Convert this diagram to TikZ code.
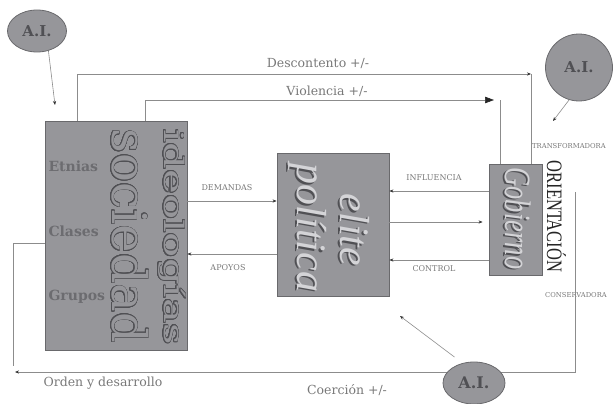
\documentclass[tikz,border=0pt]{standalone}
\usepackage{fontspec}
\setmainfont{DejaVu Serif}
\newfontfamily\libfont{Liberation Serif}
\usepackage{graphicx}
\usepackage{contour}
\contourlength{0.6pt}
\contournumber{24}
\usetikzlibrary{arrows.meta,shapes.geometric}
\definecolor{boxgray}{RGB}{150,150,154}
\definecolor{edgegray}{RGB}{105,105,108}
\definecolor{lngray}{RGB}{140,140,140}
\definecolor{txtgray}{RGB}{120,120,120}
\definecolor{darktxt}{RGB}{80,80,84}
\definecolor{lighttxt}{RGB}{212,212,215}
\definecolor{grptxt}{RGB}{108,108,112}
\tikzset{
  blk/.style={draw=edgegray,line width=0.8pt,fill=boxgray,inner sep=0pt},
  ai/.style={ellipse,draw=edgegray,line width=0.8pt,fill=boxgray,inner sep=0pt,
    text=darktxt,font=\bfseries\fontsize{15}{15}\selectfont},
  ln/.style={draw=lngray,line width=0.6pt},
  tip/.style={-{Stealth[length=4pt,width=3.2pt,color=black!80]}},
  bigtip/.style={-{Triangle[length=9pt,width=6.5pt,color=black!85]}},
  lbl/.style={text=txtgray,font=\fontsize{12.5}{12.5}\selectfont},
  small/.style={text=txtgray,font=\fontsize{8}{8}\selectfont},
  tiny/.style={anchor=west,inner sep=0pt,text=txtgray,font=\fontsize{6.8}{6.8}\selectfont},
  grp/.style={anchor=west,text=grptxt,font=\bfseries\fontsize{14}{14}\selectfont},
  vert/.style={rotate=-90,anchor=base,inner sep=0pt},
  shd/.style={font=\libfont\itshape\fontsize{#1}{#1}\selectfont}
}
\begin{document}
\begin{tikzpicture}[x=1pt,y=-1pt]
       \useasboundingbox (0,0) rectangle (613,404);

       \node(Soc)[blk,minimum width=142pt,minimum height=229pt] at (116,235.5) {};
       \node(Eli)[blk,minimum width=112pt,minimum height=143pt] at (333,224.5) {};
       \node(Gob)[blk,minimum width=53pt,minimum height=111pt] at (515.5,219.5) {};

       \node(Etn)[grp] at (45,166) {Etnias};
       \node(Cla)[grp] at (45,231) {Clases};
       \node(Gru)[grp] at (45,297) {Grupos};

       \node(TSoc)[vert,text=boxgray,font=\fontsize{48}{48}\selectfont] at (112,236) {\contour{darktxt}{sociedad}};
       \node(TIde)[vert,text=boxgray,font=\fontsize{27}{27}\selectfont] at (164,237) {\scalebox{1.55}[1]{\contour{darktxt}{ideologías}}};

       \node(TEliS)[vert,shd=42,text=darktxt] at (338.4,231.2) {elite};
       \node(TEli)[vert,shd=42,text=lighttxt] at (340,230) {elite};
       \node(TPolS)[vert,shd=42,text=darktxt] at (295.4,229.2) {política};
       \node(TPol)[vert,shd=42,text=lighttxt] at (297,228) {política};

       \node(TGobS)[vert,shd=37,text=darktxt] at (503.4,219.7) {\scalebox{0.72}[1]{Gobierno}};
       \node(TGob)[vert,shd=37,text=lighttxt] at (505,218.5) {\scalebox{0.72}[1]{Gobierno}};

       \node(TOri)[vert,text=black!85,font=\libfont\fontsize{22}{22}\selectfont] at (547,216.5) {\scalebox{0.75}[1]{ORIENTACIÓN}};
       \node(TTra)[tiny] at (532,146) {TRANSFORMADORA};
       \node(TCon)[tiny] at (545,295) {CONSERVADORA};

       \coordinate(Dsc) at (531,74);
       \draw[ln,tip] (77,0 |- Soc.north) |- (Dsc);
       \draw[ln] (Dsc) -- (Dsc |- Gob.north);
       \node(LDsc)[lbl] at (318,64) {Descontento +/-};

       \coordinate(Vio) at (494,100);
       \coordinate(VioG) at (500,100);
       \draw[ln,bigtip] (145,0 |- Soc.north) |- (Vio);
       \draw[ln] (VioG) -- (VioG |- Gob.north);
       \node(LVio)[lbl] at (327,91) {Violencia +/-};

       \draw[ln,tip] (Soc.east |- 0,201) -- (Eli.west |- 0,201);
       \node(LDem)[small] at (227,188) {DEMANDAS};
       \draw[ln,tip] (Eli.west |- 0,254) -- (Soc.east |- 0,254);
       \node(LApo)[small] at (228,268) {APOYOS};

       \draw[ln,tip] (Gob.west |- 0,191) -- (Eli.east |- 0,191);
       \node(LInf)[small] at (434,178) {INFLUENCIA};
       \draw[ln,tip,shorten >=6pt] (Eli.east |- 0,222) -- (Gob.west |- 0,222);
       \draw[ln,tip] (Gob.west |- 0,260) -- (Eli.east |- 0,260);
       \node(LCon)[small] at (434,269) {CONTROL};

       \coordinate(Ord) at (13,366);
       \draw[ln] (Soc.west |- 0,243) -| (Ord);
       \coordinate(Ori) at (575,192);
       \coordinate(Ret) at (15,372);
       \draw[ln,tip] (Ori) |- (Ret);
       \node(LOrd)[lbl] at (103,383) {Orden y desarrollo};
       \node(LCoe)[lbl] at (347,390) {Coerción +/-};

       \node(AI1)[ai,minimum width=59pt,minimum height=42pt] at (37,31) {A.I.};
       \node(AI2)[ai,minimum width=67pt,minimum height=67pt] at (579,67.5) {A.I.};
       \node(AI3)[ai,minimum width=62pt,minimum height=42pt,font=\bfseries\fontsize{16}{16}\selectfont] at (474,383) {A.I.};

       \coordinate(E1) at (55,105);
       \coordinate(E2) at (553,121);
       \coordinate(E3) at (400,316);
       \draw[ln,tip] (AI1.300) -- (E1);
       \draw[ln,tip] (AI2.253) -- (E2);
       \draw[ln,tip,shorten <=10pt] (AI3.120) -- (E3);
\end{tikzpicture}
\end{document}
